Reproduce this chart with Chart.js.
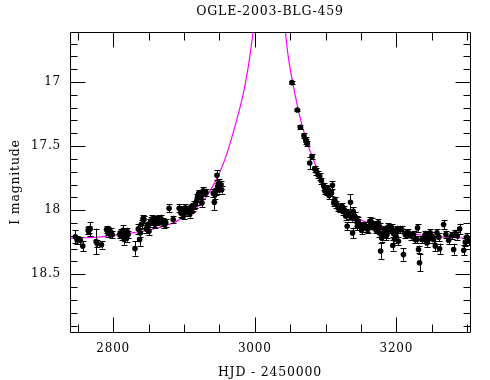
<!DOCTYPE html>
<html>
<head>
<meta charset="utf-8">
<script src="https://cdn.jsdelivr.net/npm/chart.js@4"></script>
<style>
html,body{margin:0;padding:0;background:#fff;}
#wrap{width:490px;height:380px;}
</style>
</head>
<body>
<div id="wrap"><canvas id="c" width="490" height="380"></canvas></div>
<script>
// ---- data ----
const titleText = "OGLE-2003-BLG-459";
const xTitle = "HJD - 2450000";
const yTitle = "I magnitude";

const xLabelTicks = [2800, 3000, 3200];
const xMarkTicks = [2750, 2800, 2850, 2900, 2950, 3000, 3050, 3100, 3150, 3200, 3250, 3300];
const xMajorEvery = 200;
const yLabelTicks = [17, 17.5, 18, 18.5];
const yMarkTicks = [16.7,16.8,16.9,17.0,17.1,17.2,17.3,17.4,17.5,17.6,17.7,17.8,17.9,18.0,18.1,18.2,18.3,18.4,18.5,18.6,18.7,18.8,18.9];

const obsHJD = [
2746.6,2753.7,2757.0,2764.6,2767.4,2775.9,2777.4,2783.5,2790.6,2793.0,2796.3,2798.6,
2810.4,2811.9,2813.8,2815.6,2817.5,2819.9,2819.0,2830.8,2835.5,2837.4,2838.3,2842.1,
2843.5,2846.9,2850.6,2853.0,2855.4,2857.7,2860.1,2862.5,2864.8,2867.2,2870.5,2874.3,
2879.0,2884.7,2893.2,2895.6,2897.9,2901.7,2905.0,2908.3,2911.2,2913.1,2915.9,2917.8,
2920.6,2923.9,2925.3,2927.2,2931.0,2941.4,2942.9,2945.2,2946.6,2947.6,2950.0,2952.3,2953.2,
2749.0,2766.0,2792.0,2809.0,2812.5,2816.5,2821.0,2840.0,2848.5,2852.0,2856.5,2859.0,
2863.5,2866.0,2872.0,2896.5,2899.5,2903.5,2909.5,2914.5,2919.0,2922.5,2926.0,2944.0,2949.0,2951.0,
3052.5,3060.1,3064.3,3069.5,3072.9,3074.3,3077.6,3080.9,3084.7,3087.1,3089.4,3091.8,
3097.5,3100.3,3102.6,3105.0,3108.3,3109.7,3111.6,3115.4,3117.7,3123.4,3126.2,3128.6,
3130.5,3131.9,3135.2,3138.1,3139.0,3141.4,3143.7,3146.1,3148.5,3150.8,3153.2,3155.6,
3157.9,3162.6,3165.0,3167.4,3169.8,3172.1,3174.5,3175.9,3177.8,3179.2,3181.6,3184.0,
3185.4,3188.7,3193.4,3194.9,3195.8,3197.2,3200.5,3202.9,3205.3,3210.0,3217.1,3224.2,
3226.5,3229.9,3231.3,3232.7,3238.4,3240.7,3243.1,3245.4,3247.8,3250.2,3252.5,3254.9,
3257.3,3261.1,3266.7,3273.8,3278.5,3280.9,3283.3,3289.4,3295.1,3297.4,3302.2,
3071.9,3094.0,3099.0,3104.0,3113.0,3120.0,3124.5,3133.5,3136.7,3144.8,3151.5,3159.5,
3163.8,3170.9,3176.5,3180.5,3183.0,3186.8,3191.0,3199.6,3207.6,3212.5,3214.7,3220.0,
3228.9,3236.0,3244.0,3260.0,3270.0,3286.0,3299.5
];
const obsMag = [
18.208,18.236,18.280,18.159,18.146,18.244,18.260,18.270,18.151,18.177,18.169,18.190,
18.177,18.203,18.156,18.229,18.190,18.166,18.216,18.299,18.146,18.229,18.177,18.068,
18.073,18.146,18.164,18.086,18.068,18.099,18.073,18.086,18.068,18.065,18.091,18.099,
17.985,18.073,17.985,18.021,18.029,17.982,18.016,18.029,17.982,17.975,17.956,17.931,
17.871,17.905,17.944,17.848,17.861,17.866,17.938,17.853,17.728,17.814,17.840,17.801,17.840,
18.230,18.150,18.160,18.190,18.175,18.200,18.190,18.110,18.120,18.100,18.085,18.110,
18.075,18.080,18.110,18.000,18.040,18.000,17.990,17.960,17.900,17.880,17.880,17.880,17.790,17.820,
17.005,17.218,17.353,17.420,17.464,17.482,17.632,17.581,17.677,17.697,17.723,17.736,
17.814,17.827,17.853,17.886,17.866,17.806,17.943,17.956,17.982,17.969,17.995,18.047,
18.125,18.021,17.938,18.177,18.008,18.047,18.073,18.086,18.125,18.156,18.138,18.120,
18.138,18.086,18.094,18.112,18.125,18.138,18.099,18.177,18.319,18.216,18.177,18.151,
18.203,18.130,18.138,18.275,18.177,18.223,18.151,18.242,18.151,18.345,18.177,18.190,
18.229,18.138,18.306,18.410,18.229,18.190,18.255,18.229,18.177,18.203,18.229,18.280,
18.177,18.301,18.112,18.234,18.198,18.306,18.182,18.146,18.312,18.249,18.242,
17.451,17.770,17.850,17.840,17.920,17.990,18.010,18.040,18.060,18.125,18.120,18.150,
18.120,18.150,18.130,18.200,18.170,18.190,18.150,18.203,18.151,18.190,18.177,18.200,
18.229,18.229,18.200,18.210,18.190,18.200,18.210
];
const obsErr = [
0.050,0.030,0.040,0.030,0.055,0.100,0.030,0.030,0.030,0.030,0.030,0.030,
0.030,0.030,0.040,0.040,0.030,0.030,0.030,0.055,0.040,0.050,0.030,0.030,
0.030,0.030,0.030,0.030,0.030,0.030,0.030,0.030,0.030,0.030,0.030,0.030,
0.030,0.030,0.030,0.030,0.030,0.030,0.030,0.030,0.030,0.030,0.030,0.030,
0.030,0.030,0.030,0.030,0.030,0.030,0.060,0.030,0.040,0.030,0.030,0.030,0.030,
0.030,0.030,0.030,0.030,0.030,0.030,0.030,0.030,0.030,0.030,0.030,0.030,
0.030,0.030,0.030,0.030,0.030,0.030,0.030,0.030,0.030,0.030,0.030,0.030,0.030,0.030,
0.010,0.010,0.015,0.020,0.020,0.020,0.050,0.020,0.025,0.025,0.025,0.025,
0.025,0.025,0.025,0.025,0.025,0.030,0.025,0.025,0.025,0.025,0.025,0.030,
0.030,0.030,0.065,0.040,0.030,0.030,0.030,0.030,0.030,0.030,0.030,0.030,
0.030,0.030,0.030,0.030,0.030,0.030,0.030,0.030,0.065,0.030,0.030,0.030,
0.030,0.030,0.030,0.040,0.030,0.030,0.030,0.030,0.030,0.050,0.030,0.030,
0.030,0.030,0.030,0.065,0.030,0.030,0.030,0.030,0.030,0.030,0.030,0.040,
0.030,0.040,0.035,0.030,0.030,0.040,0.030,0.040,0.040,0.030,0.030,
0.020,0.025,0.025,0.025,0.025,0.025,0.025,0.030,0.030,0.030,0.030,0.030,
0.030,0.030,0.030,0.030,0.030,0.030,0.030,0.030,0.030,0.030,0.030,0.030,
0.030,0.030,0.030,0.030,0.030,0.030,0.030
];

// model curve (null = peak off the top of the frame)
const modelHJD = [2737,2760,2780,2800,2820,2836,2850,2865,2880,2890,2900,2912,2920,2931,2940,2950,2957,2964,2970,2975,2983,2990,2996,2999.5,
  3020,
  3042.5,3046,3049.2,3053,3060,3065,3070,3075,3080,3090,3100,3110,3125,3148.5,3170,3196,3220,3243,3270,3304];
const modelMag = [18.22,18.215,18.21,18.195,18.18,18.17,18.155,18.135,18.11,18.085,18.05,18.01,17.97,17.90,17.82,17.71,17.615,17.50,17.385,17.285,17.11,16.91,16.68,16.53,
  null,
  16.56,16.75,16.87,16.99,17.18,17.30,17.40,17.49,17.565,17.70,17.81,17.89,17.98,18.07,18.12,18.15,18.18,18.20,18.21,18.22];

const xMin = 2739, xMax = 3304;
const yMin = 16.61, yMax = 18.95;

const FONT = "'DejaVu Serif', serif";

const framePlugin = {
  id: 'frame',
  beforeDraw(chart) {
    chart.ctx.letterSpacing = '0.8px';
  },
  afterDatasetsDraw(chart) {
    const ctx = chart.ctx, a = chart.chartArea;
    const xs = chart.scales.x, ys = chart.scales.y;
    ctx.save();
    ctx.beginPath();
    ctx.rect(a.left, a.top, a.right - a.left, a.bottom - a.top);
    ctx.clip();
    ctx.strokeStyle = '#000';
    ctx.lineWidth = 1;
    ctx.beginPath();
    for (let i = 0; i < obsHJD.length; i++) {
      const px = Math.round(xs.getPixelForValue(obsHJD[i])) + 0.5;
      const p1 = ys.getPixelForValue(obsMag[i] - obsErr[i]);
      const p2 = ys.getPixelForValue(obsMag[i] + obsErr[i]);
      ctx.moveTo(px, p1); ctx.lineTo(px, p2);
      ctx.moveTo(px - 3, Math.round(p1) + 0.5); ctx.lineTo(px + 3, Math.round(p1) + 0.5);
      ctx.moveTo(px - 3, Math.round(p2) + 0.5); ctx.lineTo(px + 3, Math.round(p2) + 0.5);
    }
    ctx.stroke();
    ctx.restore();
  },
  afterDraw(chart) {
    const ctx = chart.ctx, a = chart.chartArea;
    const xs = chart.scales.x, ys = chart.scales.y;
    ctx.save();
    ctx.strokeStyle = '#000';
    ctx.lineWidth = 1;
    ctx.beginPath();
    const L = Math.round(a.left) + 0.5, R = Math.round(a.right) + 0.5;
    const T = Math.round(a.top) + 0.5, B = Math.round(a.bottom) + 0.5;
    ctx.rect(L, T, R - L, B - T);
    xMarkTicks.forEach(v => {
      const px = Math.round(xs.getPixelForValue(v)) + 0.5;
      const len = (v % xMajorEvery === 0) ? 15 : 8;
      ctx.moveTo(px, B); ctx.lineTo(px, B - len);
      ctx.moveTo(px, T); ctx.lineTo(px, T + len);
    });
    yMarkTicks.forEach(v => {
      const py = Math.round(ys.getPixelForValue(v)) + 0.5;
      const major = Math.abs(v * 2 - Math.round(v * 2)) < 1e-6;
      const len = major ? 15 : 7;
      ctx.moveTo(L, py); ctx.lineTo(L + len, py);
      ctx.moveTo(R, py); ctx.lineTo(R - len, py);
    });
    ctx.stroke();
    ctx.restore();
  }
};

new Chart(document.getElementById('c'), {
  type: 'scatter',
  data: {
    datasets: [
      {
        label: 'model',
        type: 'line',
        data: modelHJD.map((x, i) => ({x: x, y: modelMag[i]})),
        borderColor: '#ff00ff',
        borderWidth: 1.2,
        pointRadius: 0,
        fill: false,
        spanGaps: false,
        cubicInterpolationMode: 'monotone',
        order: 2
      },
      {
        label: 'OGLE',
        data: obsHJD.map((x, i) => ({x: x, y: obsMag[i]})),
        backgroundColor: '#000',
        borderColor: '#000',
        pointRadius: 2.8,
        pointBorderWidth: 0,
        pointStyle: 'circle',
        order: 1
      }
    ]
  },
  options: {
    responsive: false,
    animation: false,
    devicePixelRatio: 1,
    layout: { padding: { left: 0, right: 20, top: 0, bottom: 0 } },
    plugins: {
      legend: { display: false },
      tooltip: { enabled: false },
      title: {
        display: true,
        fullSize: false,
        text: titleText,
        color: '#000',
        font: { family: FONT, size: 12.5, weight: 'normal' },
        padding: { top: 4, bottom: 13 }
      }
    },
    scales: {
      x: {
        type: 'linear',
        min: xMin, max: xMax,
        grid: { display: false, drawTicks: false },
        border: { display: false },
        afterBuildTicks: s => { s.ticks = xLabelTicks.map(v => ({value: v})); },
        afterFit: s => { s.height = 48; },
        ticks: {
          color: '#000',
          padding: 10,
          maxRotation: 0,
          autoSkip: false,
          font: { family: FONT, size: 12 },
          callback: v => String(v)
        },
        title: {
          display: true,
          text: xTitle,
          color: '#000',
          font: { family: FONT, size: 12.5 },
          padding: { top: 4, bottom: 0 }
        }
      },
      y: {
        type: 'linear',
        reverse: true,
        min: yMin, max: yMax,
        grid: { display: false, drawTicks: false },
        border: { display: false },
        afterBuildTicks: s => { s.ticks = yLabelTicks.map(v => ({value: v})); },
        afterFit: s => { s.width = 70; },
        ticks: {
          color: '#000',
          padding: 9,
          autoSkip: false,
          font: { family: FONT, size: 12 },
          callback: v => String(v)
        },
        title: {
          display: true,
          text: yTitle,
          color: '#000',
          font: { family: FONT, size: 12.5 },
          padding: { top: 8, bottom: 0 }
        }
      }
    }
  },
  plugins: [framePlugin]
});
</script>
</body>
</html>
